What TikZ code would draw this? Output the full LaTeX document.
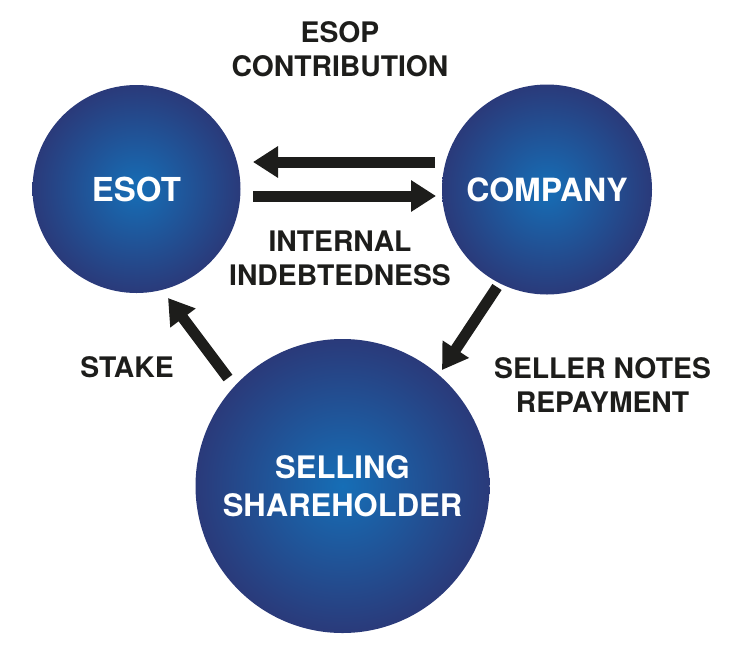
\documentclass[tikz,border=0pt]{standalone}
\usepackage{fontspec}
\setmainfont{TeX Gyre Heros}
\usetikzlibrary{arrows.meta}
\definecolor{ink}{RGB}{29,29,27}
\definecolor{ballin}{RGB}{22,110,182}
\definecolor{ballout}{RGB}{42,58,122}
\tikzset{
  ball/.style={circle, inner sep=0pt, shading=radial, inner color=ballin, outer color=ballout,
    text=white, font=\bfseries\fontsize{32}{38}\selectfont, align=center},
  lbl/.style={inner sep=0pt, text=ink, align=center, font=\bfseries\fontsize{28.3}{34}\selectfont},
  bigarrow/.style={draw=ink, line width=11pt, -{Triangle[width=30pt,length=25pt]}, fill=ink}
}
\begin{document}
\begin{tikzpicture}[x=1pt,y=-1pt]
\useasboundingbox (0,0) rectangle (735,670);
\node[ball, minimum size=208pt, font=\bfseries\fontsize{33}{38}\selectfont] (esot) at (136.5,189) {ESOT};
\node[ball, minimum size=210pt] (company) at (547,189.5) {COMPANY};
\node[ball, minimum size=294pt, font=\bfseries\fontsize{31}{39}\selectfont] (seller) at (342.5,486) {SELLING\\[-1pt]SHAREHOLDER};
\node[lbl] (esop) at (340,49) {ESOP\\CONTRIBUTION};
\node[lbl] (internal) at (340,258.5) {INTERNAL\\INDEBTEDNESS};
\node[lbl] (notes) at (602.5,385.5) {SELLER NOTES\\REPAYMENT};
\node[lbl] (stake) at (127,367.5) {STAKE};
\coordinate (t1) at (435,162);
\coordinate (h1) at (253,162);
\coordinate (t2) at (253,196);
\coordinate (h2) at (436,196);
\coordinate (t3) at (228,378);
\coordinate (h3) at (168,298);
\coordinate (t4) at (497,287);
\coordinate (h4) at (442,370);
\draw[bigarrow] (t1) -- (h1);
\draw[bigarrow] (t2) -- (h2);
\draw[bigarrow] (t3) -- (h3);
\draw[bigarrow] (t4) -- (h4);
\end{tikzpicture}
\end{document}
